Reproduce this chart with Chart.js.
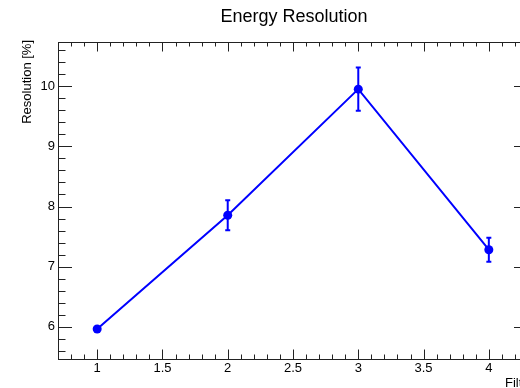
<!DOCTYPE html>
<html>
<head>
<meta charset="utf-8">
<script src="https://cdn.jsdelivr.net/npm/chart.js@4.4.1/dist/chart.umd.min.js"></script>
<style>
  html, body { margin: 0; padding: 0; background: #fff; overflow: hidden; }
  #wrap { width: 560px; height: 388px; }
</style>
</head>
<body>
<div id="wrap"><canvas id="c" width="560" height="388"></canvas></div>
<script>
// data
const filterIds   = [1, 2, 3, 4];
const resolution  = [5.96, 7.855, 9.955, 7.28];
const resErr      = [0.0, 0.25, 0.36, 0.20];

const xTicks = [1, 1.5, 2, 2.5, 3, 3.5, 4];
const yTicks = [6, 7, 8, 9, 10];

const FONT = '"Liberation Sans", Arial, sans-serif';
const BLUE = '#0000ff';

// ROOT style frame, inward ticks, labels
const rootFrame = {
  id: 'rootFrame',
  beforeDatasetsDraw(chart) {
    const { ctx, scales: { x, y } } = chart;
    ctx.save();
    ctx.strokeStyle = BLUE;
    ctx.lineWidth = 2;
    filterIds.forEach((v, i) => {
      const e = resErr[i];
      if (!e) return;
      const px = x.getPixelForValue(v);
      const top = y.getPixelForValue(resolution[i] + e);
      const bot = y.getPixelForValue(resolution[i] - e);
      ctx.beginPath();
      ctx.moveTo(px, top); ctx.lineTo(px, bot);
      ctx.moveTo(px - 2.5, top); ctx.lineTo(px + 2.5, top);
      ctx.moveTo(px - 2.5, bot); ctx.lineTo(px + 2.5, bot);
      ctx.stroke();
    });
    ctx.restore();
  },
  afterDraw(chart) {
    const { ctx, chartArea: a, scales: { x, y } } = chart;
    ctx.save();
    ctx.strokeStyle = '#222';
    ctx.lineWidth = 1;
    ctx.strokeRect(a.left + 0.5, a.top + 0.5, a.right - a.left, a.bottom - a.top);

    ctx.beginPath();
    // x ticks: major every 0.5, minor every 0.1
    for (let k = 7; k <= 43; k++) {
      const v = k / 10;
      const px = Math.round(x.getPixelForValue(v)) + 0.5;
      const len = (k % 5 === 0) ? 9.5 : 4.5;
      ctx.moveTo(px, a.bottom); ctx.lineTo(px, a.bottom - len);
      ctx.moveTo(px, a.top); ctx.lineTo(px, a.top + len);
    }
    // y ticks: major every 1, minor every 0.2
    for (let k = 28; k <= 53; k++) {
      const v = k / 5;
      const py = Math.round(y.getPixelForValue(v)) + 0.5;
      const len = (k % 5 === 0) ? 14 : 7.5;
      ctx.moveTo(a.left, py); ctx.lineTo(a.left + len, py);
      ctx.moveTo(a.right, py); ctx.lineTo(a.right - len, py);
    }
    ctx.stroke();

    ctx.fillStyle = '#000';
    ctx.font = '13px ' + FONT;
    ctx.textAlign = 'center';
    ctx.textBaseline = 'top';
    xTicks.forEach(v => ctx.fillText(String(v), x.getPixelForValue(v), a.bottom + 3));
    ctx.textAlign = 'right';
    ctx.textBaseline = 'middle';
    yTicks.forEach(v => ctx.fillText(String(v), a.left - 3, y.getPixelForValue(v)));

    // axis titles
    ctx.textAlign = 'left';
    ctx.textBaseline = 'alphabetic';
    ctx.fillText('Filter', 505, 387);
    ctx.save();
    ctx.translate(27, 40);
    ctx.rotate(-Math.PI / 2);
    ctx.textAlign = 'right';
    ctx.textBaseline = 'middle';
    ctx.fillText('Resolution [%]', 0, 0);
    ctx.restore();

    // title
    ctx.font = '18px ' + FONT;
    ctx.textAlign = 'center';
    ctx.textBaseline = 'alphabetic';
    ctx.fillText('Energy Resolution', 294, 22);
    ctx.restore();
  }
};

new Chart(document.getElementById('c'), {
  type: 'line',
  data: {
    datasets: [{
      data: filterIds.map((v, i) => ({ x: v, y: resolution[i] })),
      borderColor: BLUE,
      backgroundColor: BLUE,
      borderWidth: 2,
      pointRadius: 4.5,
      pointBorderWidth: 0,
      tension: 0
    }]
  },
  options: {
    responsive: false,
    devicePixelRatio: 1,
    animation: false,
    layout: { padding: { left: 58, top: 42, right: 32, bottom: 29 } },
    plugins: { legend: { display: false }, tooltip: { enabled: false } },
    scales: {
      x: { type: 'linear', min: 0.7, max: 4.3, display: false },
      y: { min: 5.46, max: 10.74, display: false }
    }
  },
  plugins: [rootFrame]
});
</script>
</body>
</html>
